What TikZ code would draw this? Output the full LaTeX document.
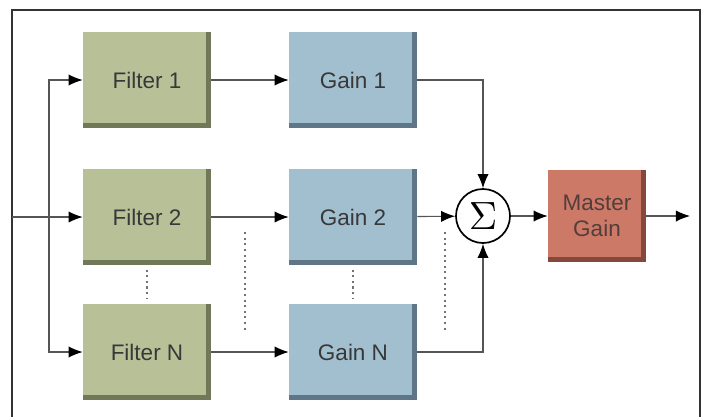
\documentclass[tikz,border=0pt]{standalone}
\usepackage{fontspec}
\usepackage{graphicx}
\setmainfont{Liberation Sans}
\usetikzlibrary{calc}
\usetikzlibrary{arrows.meta}
\tikzset{>={Latex[length=10pt,width=8pt,black]}}

\definecolor{filtfill}{RGB}{184,192,152}
\definecolor{filtdark}{RGB}{112,120,88}
\definecolor{gainfill}{RGB}{162,191,207}
\definecolor{gaindark}{RGB}{94,118,134}
\definecolor{mastfill}{RGB}{205,121,104}
\definecolor{mastdark}{RGB}{132,72,60}
\definecolor{masttext}{RGB}{82,62,58}
\definecolor{wirecol}{RGB}{85,85,85}

\tikzset{
  block/.style 2 args={rectangle, inner sep=0pt, align=center,
    minimum width=3.2cm, minimum height=2.4cm, fill=#2,
    font=\fontsize{16}{19}\selectfont, text=black!78,
    path picture={\fill[#1] (path picture bounding box.north west)
      rectangle ([xshift=-3.5pt,yshift=3.5pt]path picture bounding box.south east);}},
  filter/.style={block={filtfill}{filtdark}},
  gain/.style={block={gainfill}{gaindark}},
  master/.style={block={mastfill}{mastdark}, minimum width=2.45cm,
    minimum height=2.275cm, text=masttext},
  sumnode/.style={circle, draw, line width=1.2pt, fill=white,
    minimum size=1.35cm, inner sep=0pt},
  wire/.style={draw=wirecol, line width=0.8pt},
  gapline/.style={draw=black!55, line width=0.8pt, dash pattern=on 1.5pt off 2.5pt},
}

\begin{document}
\begin{tikzpicture}[x=0.025cm, y=-0.025cm]
    \useasboundingbox (0,0) rectangle (705,417);

    % outer frame, open at the bottom
    \draw [line width=1.4pt, black!80] (12,417) -- (12,10) -- (700,10) -- (700,417);

    \node [filter] (f1) at (147,80) {Filter 1};
    \node [filter] (f2) at (147,217) {Filter 2};
    \node [filter] (fn) at (147,352) {Filter N};

    \node [gain] (g1) at (353,80) {Gain 1};
    \node [gain] (g2) at (353,217) {Gain 2};
    \node [gain] (gn) at (353,352) {Gain N};

    \node [sumnode] (sum) at (483,216) {\scalebox{2.8}{$\Sigma$}};
    \node [master] (mg) at (597,216) {Master\\Gain};

    \coordinate (in) at (12,217);
    \coordinate (split) at (49,217);
    \coordinate (out) at (690,216);

    \draw [wire] (in) -- (split);
    \draw [wire,->] (split) |- (f1);
    \draw [wire,->] (split) -- (f2);
    \draw [wire,->] (split) |- (fn);

    \draw [wire,->] (f1) -- (g1);
    \draw [wire,->] (f2) -- (g2);
    \draw [wire,->] (fn) -- (gn);

    \draw [wire,->] (g1) -| (sum);
    \draw [wire,->] (g2) -- (sum);
    \draw [wire,->] (gn) -| (sum);

    \draw [wire,->] (sum) -- (mg);
    \draw [wire,->] (mg) -- (out);

    % dotted "and so on" marks
    \coordinate (d1a) at (245,232);
    \coordinate (d1b) at (245,330);
    \coordinate (d2a) at (445,232);
    \coordinate (d2b) at (445,330);

    \draw [gapline, shorten <=3pt, shorten >=3pt] (f2) -- (fn);
    \draw [gapline, shorten <=3pt, shorten >=3pt] (g2) -- (gn);
    \draw [gapline] (d1a) -- (d1b);
    \draw [gapline] (d2a) -- (d2b);

\end{tikzpicture}
\end{document}
